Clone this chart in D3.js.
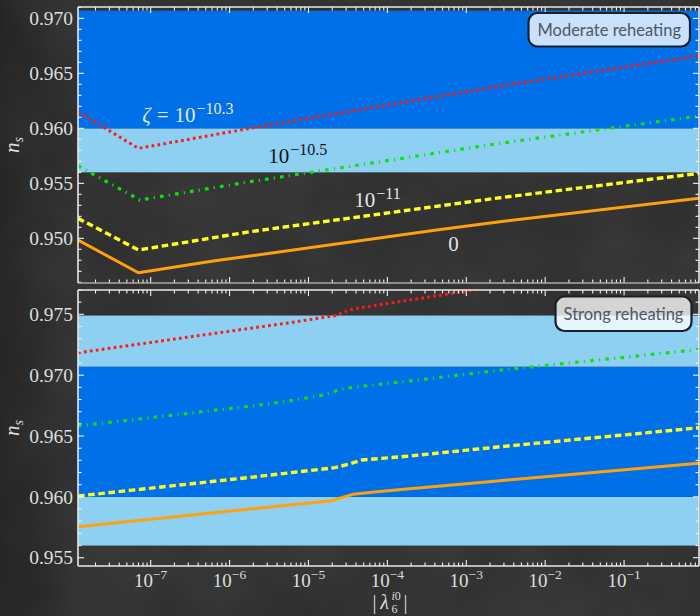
<!DOCTYPE html>
<html>
<head>
<meta charset="utf-8">
<script src="https://cdn.jsdelivr.net/npm/d3@7/dist/d3.min.js"></script>
<style>
  html, body { margin: 0; padding: 0; background: #2b2b2b; }
  svg { display: block; }
</style>
</head>
<body>
<svg id="chart" width="700" height="616"></svg>
<script>
// ---- data -------------------------------------------------------------
// x: |lambda_6^{i0}| (log axis), y: spectral index n_s

const xDomain = [1.2e-8, 0.89];
const xTickValues = [1e-7, 1e-6, 1e-5, 1e-4, 1e-3, 1e-2, 1e-1];
const xTickExponents = ["−7", "−6", "−5", "−4", "−3", "−2", "−1"];

const moderateYDomain = [0.94594, 0.97103];
const moderateYTicks = [0.950, 0.955, 0.960, 0.965, 0.970];
const strongYDomain = [0.95432, 0.97700];
const strongYTicks = [0.955, 0.960, 0.965, 0.970, 0.975];

// observational n_s bands: [low, high, level]
const moderateBands = [[0.956, 0.960, "outer"], [0.960, 0.9707, "inner"]];
const strongBands = [[0.956, 0.960, "outer"], [0.960, 0.9707, "inner"], [0.9707, 0.9749, "outer"]];

// Moderate reheating
const moderateZeta103 = [[1.2e-8, 0.96151], [7.0e-8, 0.95818], [1.81e-6, 0.96000], [2.67e-3, 0.96385], [0.89, 0.96659]];
const moderateZeta105 = [[1.2e-8, 0.95660], [7.3e-8, 0.95348], [1.81e-6, 0.95515], [2.67e-3, 0.95864], [0.89, 0.96112]];
const moderateZeta11  = [[1.2e-8, 0.95182], [7.0e-8, 0.94894], [1.81e-6, 0.95060], [2.67e-3, 0.95369], [0.89, 0.95591]];
const moderateZeta0   = [[1.2e-8, 0.94985], [7.0e-8, 0.94687], [6.5e-7, 0.94796], [1.81e-6, 0.94839], [4.2e-4, 0.95075], [2.67e-3, 0.95151], [0.89, 0.95364]];

// Strong reheating
const strongZeta103 = [[1.2e-8, 0.97184], [1.81e-6, 0.97385], [5.8e-6, 0.97431], [2.16e-5, 0.97489], [3.66e-5, 0.97544], [1.93e-4, 0.97618], [2.67e-3, 0.97734], [0.89, 0.97980]];
const strongZeta105 = [[1.2e-8, 0.96583], [1.81e-6, 0.96745], [5.8e-6, 0.96789], [1.52e-5, 0.96836], [2.9e-5, 0.96893], [1.93e-4, 0.96953], [2.67e-3, 0.97041], [0.89, 0.97211]];
const strongZeta11  = [[1.2e-8, 0.96007], [1.81e-6, 0.96160], [5.8e-6, 0.96198], [2.16e-5, 0.96240], [3.3e-5, 0.96270], [4.76e-5, 0.96303], [1.93e-4, 0.96336], [2.67e-3, 0.96412], [0.89, 0.96568]];
const strongZeta0   = [[1.2e-8, 0.95755], [1.81e-6, 0.95900], [5.8e-6, 0.95933], [1.87e-5, 0.95966], [3.66e-5, 0.96021], [7.4e-5, 0.96042], [1.93e-4, 0.96067], [2.67e-3, 0.96133], [0.89, 0.96276]];

// curve labels in the upper panel: [x, y, base, exponent]
const curveLabels = [
  [7.8e-8, 0.96060, "10", "−10.3"],
  [3.1e-6, 0.95685, "10", "−10.5"],
  [3.8e-5, 0.95285, "10", "−11"],
  [5.9e-4, 0.94887, "0", ""]
];

// ---- drawing ----------------------------------------------------------
const svg = d3.select("#chart");
const W = 700, H = 616;
const left = 78, right = 699;

const style = {
  bg: "#2c2c2c",
  inner: "#0070e8",
  outer: "#8ed0f2",
  frame: "#e8e8e8",
  text: "#dedede",
  series: [
    { color: "#ff1a1a", width: 3.0, dash: "2.7 3.3" },
    { color: "#10e010", width: 3.2, dash: "3.6 5.2 1.2 5.2" },
    { color: "#ffff20", width: 3.4, dash: "6.6 3.6" },
    { color: "#ffa010", width: 3.0, dash: null }
  ]
};

const defs = svg.append("defs");
// subtle chalkboard texture
const noise = defs.append("filter").attr("id", "chalk").attr("x", 0).attr("y", 0).attr("width", "100%").attr("height", "100%");
noise.append("feTurbulence").attr("type", "fractalNoise").attr("baseFrequency", 0.012).attr("numOctaves", 3).attr("seed", 7).attr("result", "n");
noise.append("feColorMatrix").attr("type", "matrix")
  .attr("values", "0 0 0 0 0.55  0 0 0 0 0.55  0 0 0 0 0.55  0 0 0 0.18 0");

svg.append("rect").attr("width", W).attr("height", H).attr("fill", style.bg);
svg.append("rect").attr("width", W).attr("height", H).attr("filter", "url(#chalk)").attr("opacity", 0.6);
const vign = defs.append("linearGradient").attr("id", "vign").attr("x1", 0).attr("x2", 1);
vign.append("stop").attr("offset", 0).attr("stop-color", "#000").attr("stop-opacity", 0.25);
vign.append("stop").attr("offset", 0.12).attr("stop-color", "#000").attr("stop-opacity", 0);
vign.append("stop").attr("offset", 1).attr("stop-color", "#000").attr("stop-opacity", 0);
svg.append("rect").attr("width", W).attr("height", H).attr("fill", "url(#vign)");

const x = d3.scaleLog().domain(xDomain).range([left, right]);

function minorLogTicks() {
  const out = [];
  for (let e = -9; e <= 0; e++) {
    for (let m = 1; m <= 9; m++) {
      const v = m * Math.pow(10, e);
      if (v >= xDomain[0] && v <= xDomain[1]) out.push(v);
    }
  }
  return out;
}
const xAll = minorLogTicks();

function panel(opts) {
  const { top, bottom, yDomain, yTicks, bands, series, id, bottomFrameColor } = opts;
  const y = d3.scaleLinear().domain(yDomain).range([bottom, top]);
  const g = svg.append("g");

  defs.append("clipPath").attr("id", id)
    .append("rect").attr("x", left).attr("y", top).attr("width", right - left).attr("height", bottom - top);
  const plot = g.append("g").attr("clip-path", `url(#${id})`);

  plot.selectAll("rect.band").data(bands).join("rect")
    .attr("class", "band")
    .attr("x", left).attr("width", right - left)
    .attr("y", d => y(d[1])).attr("height", d => y(d[0]) - y(d[1]))
    .attr("fill", d => d[2] === "inner" ? style.inner : style.outer);

  const line = d3.line().x(d => x(d[0])).y(d => y(d[1]));
  series.forEach((s, i) => {
    const st = style.series[i];
    plot.append("path").datum(s)
      .attr("d", line)
      .attr("fill", "none")
      .attr("stroke", st.color)
      .attr("stroke-width", st.width)
      .attr("stroke-dasharray", st.dash)
      .attr("stroke-linejoin", "round");
  });

  // ticks: inward on all four sides
  const yMinor = d3.range(Math.ceil(yDomain[0] * 1000), Math.floor(yDomain[1] * 1000) + 1).map(v => v / 1000);
  const isMajorY = v => yTicks.some(t => Math.abs(t - v) < 1e-7);
  const isMajorX = v => xTickValues.some(t => Math.abs(Math.log10(t) - Math.log10(v)) < 1e-6);

  const tk = g.append("g").attr("stroke", "#f2f2f2").attr("stroke-width", 1.1);
  yMinor.forEach(v => {
    const L = isMajorY(v) ? 6 : 3.5;
    tk.append("line").attr("x1", left).attr("x2", left + L).attr("y1", y(v)).attr("y2", y(v));
    tk.append("line").attr("x1", right).attr("x2", right - L).attr("y1", y(v)).attr("y2", y(v));
  });
  xAll.forEach(v => {
    const L = isMajorX(v) ? 6 : 3.5;
    tk.append("line").attr("x1", x(v)).attr("x2", x(v)).attr("y1", top).attr("y2", top + L);
    tk.append("line").attr("x1", x(v)).attr("x2", x(v)).attr("y1", bottom).attr("y2", bottom - L);
  });

  // frame
  g.append("line").attr("x1", left).attr("x2", right).attr("y1", top).attr("y2", top).attr("stroke", style.frame).attr("stroke-width", 1.6);
  g.append("line").attr("x1", left).attr("x2", right).attr("y1", bottom).attr("y2", bottom).attr("stroke", bottomFrameColor || style.frame).attr("stroke-width", 1.6);
  g.append("line").attr("x1", left).attr("x2", left).attr("y1", top).attr("y2", bottom).attr("stroke", style.frame).attr("stroke-width", 1.6);
  g.append("line").attr("x1", right).attr("x2", right).attr("y1", top).attr("y2", bottom).attr("stroke", style.frame).attr("stroke-width", 1.6);

  // y tick labels
  g.selectAll("text.ytl").data(yTicks).join("text")
    .attr("class", "ytl")
    .attr("x", left - 5).attr("y", d => y(d)).attr("dy", "0.34em")
    .attr("text-anchor", "end")
    .attr("font-family", "'Liberation Serif', 'DejaVu Serif', serif")
    .attr("font-size", 19.5)
    .attr("fill", style.text)
    .text(d => d3.format(".3f")(d));

  // y axis title n_s
  const yt = g.append("text")
    .attr("transform", `translate(19,${(top + bottom) / 2}) rotate(-90)`)
    .attr("text-anchor", "middle")
    .attr("font-family", "'Liberation Serif', 'DejaVu Serif', serif")
    .attr("font-size", 21)
    .attr("fill", style.text);
  yt.append("tspan").attr("font-style", "italic").text("n");
  yt.append("tspan").attr("font-style", "italic").attr("font-size", 14).attr("dy", 4).text("s");

  return { y, g };
}

const upper = panel({
  top: 7, bottom: 283, yDomain: moderateYDomain, yTicks: moderateYTicks,
  bands: moderateBands, id: "clipUpper", bottomFrameColor: "#a8a8a8",
  series: [moderateZeta103, moderateZeta105, moderateZeta11, moderateZeta0]
});
const lower = panel({
  top: 290, bottom: 566, yDomain: strongYDomain, yTicks: strongYTicks,
  bands: strongBands, id: "clipLower",
  series: [strongZeta103, strongZeta105, strongZeta11, strongZeta0]
});

// curve labels; the first one carries the "ζ =" prefix
curveLabels.forEach((d, i) => {
  const onLight = i === 1;
  const t = svg.append("text")
    .attr("x", x(d[0])).attr("y", upper.y(d[1]))
    .attr("font-family", "'Liberation Serif', 'DejaVu Serif', serif")
    .attr("font-size", 21)
    .attr("fill", onLight ? "#151515" : "#e6e6e6");
  if (i === 0) {
    t.append("tspan").attr("font-style", "italic").text("ζ");
    t.append("tspan").attr("dx", 6).text("=");
    t.append("tspan").attr("dx", 6).text(d[2]);
  } else {
    t.append("tspan").text(d[2]);
  }
  if (d[3]) t.append("tspan").attr("font-size", 16).attr("dy", -8).attr("dx", 1).text(d[3]);
});

// x tick labels (lower panel only)
const xl = svg.append("g")
  .attr("font-family", "'Liberation Serif', 'DejaVu Serif', serif")
  .attr("fill", style.text);
xTickValues.forEach((v, i) => {
  const t = xl.append("text").attr("x", x(v)).attr("y", 587).attr("text-anchor", "middle").attr("font-size", 19);
  t.append("tspan").text("10");
  t.append("tspan").attr("font-size", 13.5).attr("dy", -8).text(xTickExponents[i]);
});

// x axis title |lambda_6^{i0}|
const cx = (left + right) / 2;
const ttl = svg.append("g").attr("font-family", "'Liberation Serif', 'DejaVu Serif', serif").attr("fill", style.text);
ttl.append("text").attr("x", cx - 14).attr("y", 609).attr("font-size", 20).attr("text-anchor", "middle").text("|");
ttl.append("text").attr("x", cx - 4).attr("y", 609).attr("font-size", 20).attr("font-style", "italic").attr("text-anchor", "middle").text("λ");
const sup = ttl.append("text").attr("x", cx + 3).attr("y", 600).attr("font-size", 12);
sup.append("tspan").attr("font-style", "italic").text("i");
sup.append("tspan").text("0");
ttl.append("text").attr("x", cx + 3).attr("y", 613).attr("font-size", 12).text("6");
ttl.append("text").attr("x", cx + 17).attr("y", 609).attr("font-size", 20).attr("text-anchor", "middle").text("|");

// panel tags
function tag(label, x0, y0, w, h) {
  svg.append("rect").attr("x", x0).attr("y", y0).attr("width", w).attr("height", h)
    .attr("rx", 9).attr("ry", 9)
    .attr("fill", "#ffffff").attr("fill-opacity", 0.79)
    .attr("stroke", "#18202c").attr("stroke-width", 2.2);
  svg.append("text").attr("x", x0 + w / 2).attr("y", y0 + h / 2).attr("dy", "0.35em")
    .attr("text-anchor", "middle")
    .attr("font-family", "Lato, 'Open Sans', sans-serif")
    .attr("font-size", 16.5)
    .attr("fill", "#4f5763")
    .text(label);
}
tag("Moderate reheating", 528.5, 13, 161.5, 33.5);
tag("Strong reheating", 555.5, 296.5, 136, 34.5);
</script>
</body>
</html>
